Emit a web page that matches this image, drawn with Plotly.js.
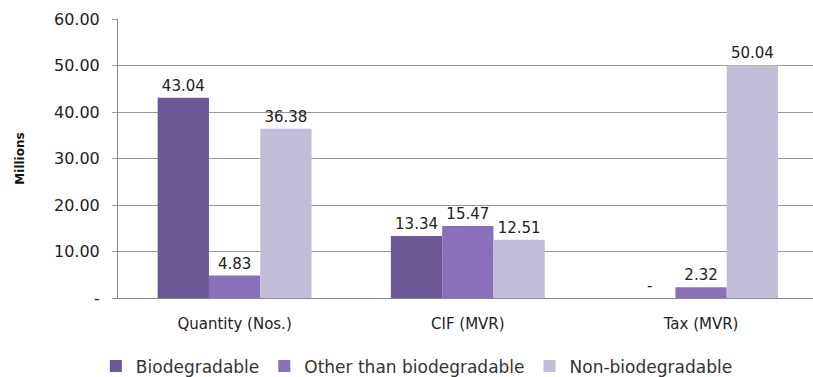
<!DOCTYPE html>
<html><head><meta charset="utf-8">
<script src="https://cdn.plot.ly/plotly-3.0.1.min.js"></script>
<style>html,body{margin:0;padding:0;background:#fff;}#chart{width:813px;height:377px;}</style>
</head><body><div id="chart"></div>
<script>
const categories = ["Quantity (Nos.)", "CIF (MVR)", "Tax (MVR)"];
const seriesNames = ["Biodegradable", "Other than biodegradable", "Non-biodegradable"];
const biodegradable = [43.04, 13.34, 0];
const otherThanBiodegradable = [4.83, 15.47, 2.32];
const nonBiodegradable = [36.38, 12.51, 50.04];
const yTickValues = [0, 10, 20, 30, 40, 50, 60];
const yTickLabels = ["-", "10.00", "20.00", "30.00", "40.00", "50.00", "60.00"];

const colors = ["#6c5894", "#8a70ba", "#c3bdd9"];
const values = [biodegradable, otherThanBiodegradable, nonBiodegradable];
const fmt = v => v === 0 ? "-" : v.toFixed(2);
const FONT = "DejaVu Sans, Open Sans, sans-serif";

const traces = values.map((vals, i) => ({
  type: "bar",
  name: seriesNames[i],
  x: categories,
  y: vals,
  text: vals.map(fmt),
  textposition: "outside",
  cliponaxis: false,
  textfont: {family: FONT, size: 15, color: "#222"},
  marker: {color: colors[i], line: {width: 0}},
  hoverinfo: "none"
}));

const layout = {
  width: 813, height: 377,
  margin: {l: 118, r: 0, t: 19, b: 79, autoexpand: false},
  paper_bgcolor: "#fff", plot_bgcolor: "#fff",
  font: {family: FONT, color: "#222", size: 14},
  barmode: "group", bargap: 0.34, bargroupgap: 0,
  showlegend: true,
  legend: {orientation: "h", x: 0.43, xanchor: "center", y: -0.245, yanchor: "middle",
           font: {family: FONT, size: 17, color: "#333"}, traceorder: "normal", itemwidth: 30},
  xaxis: {range: [-0.5, 2.48], showline: true, linecolor: "#888", linewidth: 1,
          ticks: "", tickfont: {family: FONT, size: 15, color: "#222"}, showgrid: false, zeroline: false,
          ticklabelstandoff: 12},
  yaxis: {range: [0, 60], tickvals: yTickValues, ticktext: yTickLabels,
          tickfont: {family: FONT, size: 16, color: "#222"}, showgrid: true, gridcolor: "#999", gridwidth: 1,
          showline: true, linecolor: "#888", ticks: "outside", ticklen: 5, tickcolor: "#999",
          zeroline: false, ticklabelstandoff: 9,
          title: {text: "<b>Millions</b>", font: {family: FONT, size: 12, color: "#111"}, standoff: 26}}
};

Plotly.newPlot("chart", traces, layout, {displayModeBar: false, staticPlot: true});
</script></body></html>
